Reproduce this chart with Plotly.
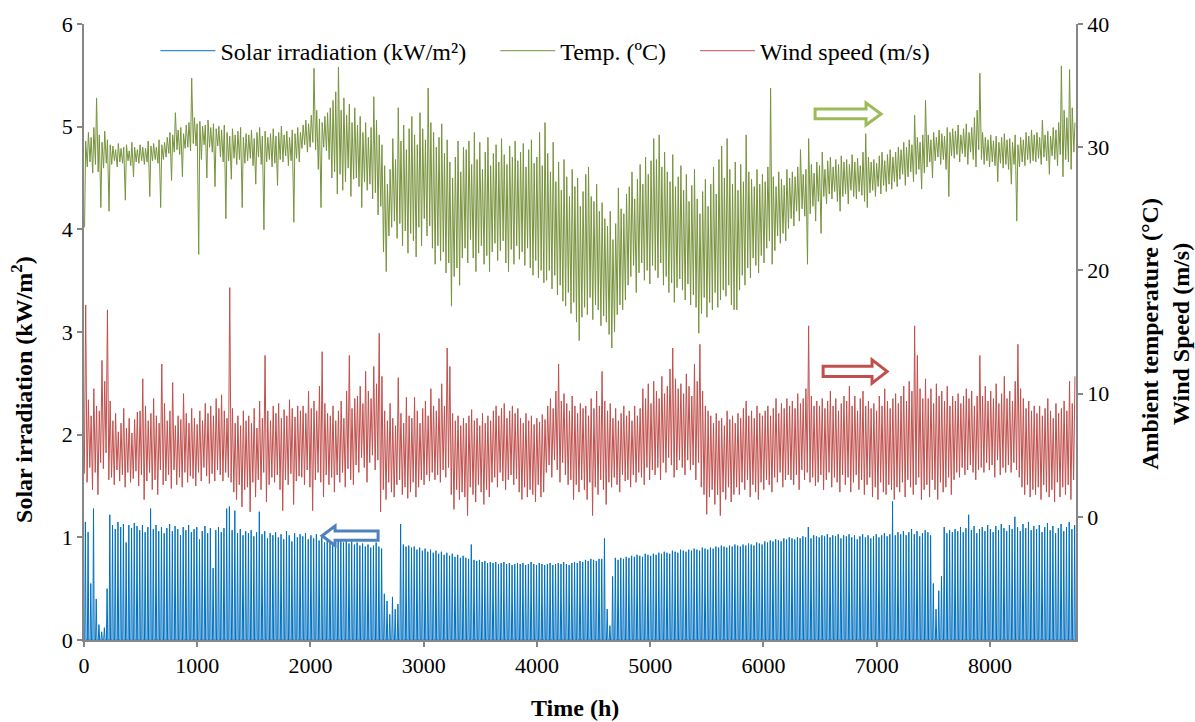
import numpy as np
import plotly.graph_objects as go

# ---------------- data (daily values) ----------------
# daily peak solar irradiation (kW/m2)
solar_peak = (
    [1.15, 1.05, 0.55, 1.28, 0.40, 0.15, 0.08, 0.12, 0.50, 1.22]
    + [1.12, 1.08, 1.15, 1.10, 1.13, 0.95, 1.12, 1.09, 1.14, 1.11]
    + [1.07, 1.12, 1.05, 1.10, 1.28, 1.08, 1.12, 1.06, 1.10, 1.04]
    + [1.09, 1.13, 1.06, 1.11, 1.08, 1.02, 1.10, 1.07, 1.12, 1.05]
    + [1.08, 1.10, 0.98, 1.06, 1.11, 1.04, 1.09, 0.70, 1.07, 1.10]
    + [1.05, 1.09, 1.28, 1.30, 1.07, 1.26, 1.04, 1.08, 1.02, 1.06]
    + [1.04, 1.07, 1.01, 1.05, 1.25, 1.03, 1.06, 0.99, 1.04, 1.02]
    + [1.05, 1.00, 1.03, 0.98, 1.06, 1.02, 0.96, 1.04, 1.00, 1.03]
    + [1.01, 1.04, 0.98, 1.02, 0.99, 1.03, 0.97, 1.00, 0.95, 0.99]
    + [0.98, 1.01, 0.96, 0.99, 0.97, 0.95, 0.98, 0.94, 0.96, 0.93]
    + [0.95, 0.92, 0.94, 0.91, 0.93, 0.90, 0.92, 0.95, 0.91, 0.89]
    + [0.45, 0.38, 0.25, 0.42, 0.30, 0.35, 1.13, 0.93, 0.91, 0.92]
    + [0.90, 0.91, 0.88, 0.90, 0.87, 0.89, 0.86, 0.88, 0.85, 0.87]
    + [0.84, 0.86, 0.83, 0.85, 0.82, 0.84, 0.81, 0.83, 0.80, 0.82]
    + [0.80, 0.79, 0.93, 0.78, 0.77, 0.78, 0.76, 0.77, 0.75, 0.76]
    + [0.75, 0.76, 0.74, 0.75, 0.76, 0.74, 0.75, 0.73, 0.74, 0.75]
    + [0.74, 0.75, 0.73, 0.74, 0.76, 0.74, 0.73, 0.75, 0.74, 0.73]
    + [0.74, 0.75, 0.73, 0.74, 0.75, 0.74, 0.76, 0.74, 0.73, 0.75]
    + [0.76, 0.75, 0.77, 0.76, 0.78, 0.77, 0.79, 0.78, 0.77, 0.79]
    + [0.79, 0.99, 0.30, 0.14, 0.62, 0.80, 0.78, 0.80, 0.79, 0.81]
    + [0.80, 0.82, 0.81, 0.83, 0.82, 0.81, 0.84, 0.83, 0.82, 0.84]
    + [0.83, 0.85, 0.84, 0.86, 0.85, 0.84, 0.87, 0.86, 0.85, 0.88]
    + [0.87, 0.86, 0.88, 0.87, 0.89, 0.88, 0.87, 0.90, 0.89, 0.88]
    + [0.90, 0.89, 0.91, 0.90, 0.92, 0.91, 0.90, 0.92, 0.91, 0.93]
    + [0.92, 0.91, 0.93, 0.92, 0.94, 0.93, 0.92, 0.95, 0.94, 0.93]
    + [0.96, 0.95, 0.97, 0.96, 0.98, 0.97, 0.96, 0.99, 0.98, 1.00]
    + [0.99, 0.98, 1.00, 0.99, 1.01, 1.00, 1.10, 0.99, 1.02, 1.01]
    + [1.00, 1.02, 1.01, 1.03, 1.00, 1.02, 1.01, 1.03, 0.99, 1.02]
    + [1.01, 1.03, 1.00, 1.02, 0.98, 1.01, 1.03, 1.00, 1.02, 0.99]
    + [1.01, 1.03, 1.00, 1.02, 1.04, 1.01, 1.03, 1.35, 1.02, 1.05]
    + [1.03, 1.06, 1.02, 1.05, 1.08, 1.03, 1.06, 1.01, 1.04, 1.07]
    + [1.05, 1.02, 0.55, 0.30, 0.48, 0.62, 1.10, 1.04, 1.07, 1.05]
    + [1.08, 1.06, 1.10, 1.05, 1.09, 1.22, 1.07, 1.11, 1.04, 1.08]
    + [1.10, 1.06, 1.12, 1.08, 1.05, 1.11, 1.07, 1.13, 1.09, 1.06]
    + [1.12, 1.08, 1.20, 1.10, 1.06, 1.13, 1.09, 1.15, 1.07, 1.11]
    + [1.08, 1.12, 1.05, 1.10, 1.14, 1.07, 1.11, 1.04, 1.09, 1.13]
    + [1.06, 1.10, 1.15, 1.08, 1.12]
)

# daily maximum / minimum ambient temperature (degC)
temp_max = (
    [30.5, 31.2, 30.8, 31.6, 34.0, 31.0, 30.4, 31.3, 30.6, 30.2]
    + [30.1, 29.8, 30.3, 29.9, 30.0, 30.2, 29.7, 30.4, 30.0, 29.8]
    + [30.2, 30.0, 29.9, 30.5, 30.1, 30.3, 30.0, 30.6, 30.2, 30.4]
    + [30.8, 31.2, 31.0, 32.8, 31.4, 31.6, 31.1, 31.8, 32.0, 35.6]
    + [32.4, 31.9, 32.1, 31.7, 31.8, 32.2, 31.6, 31.9, 31.5, 31.7]
    + [31.4, 31.8, 31.2, 30.9, 31.5, 31.0, 31.3, 31.6, 30.8, 31.1]
    + [31.0, 31.4, 30.7, 31.2, 31.6, 30.9, 31.3, 30.8, 31.1, 31.5]
    + [30.9, 31.2, 31.7, 31.0, 31.3, 30.8, 31.4, 31.1, 31.6, 31.2]
    + [31.8, 32.2, 31.9, 32.6, 36.4, 33.0, 32.3, 32.0, 32.5, 32.8]
    + [33.2, 33.8, 34.5, 36.5, 33.0, 34.0, 32.6, 33.5, 32.0, 33.2]
    + [31.8, 32.5, 31.2, 32.0, 30.8, 31.6, 34.1, 32.2, 31.0, 30.2]
    + [28.5, 27.0, 28.2, 30.7, 29.0, 33.2, 30.5, 31.8, 29.8, 31.5]
    + [32.5, 31.0, 30.2, 32.8, 31.5, 30.6, 34.8, 32.0, 31.2, 30.0]
    + [30.8, 31.9, 29.5, 30.6, 28.8, 27.5, 29.2, 30.5, 28.0, 30.0]
    + [29.8, 30.5, 28.6, 31.2, 29.0, 30.4, 28.2, 29.6, 30.8, 28.5]
    + [29.5, 30.2, 28.8, 30.7, 29.4, 28.6, 30.1, 29.2, 30.5, 28.9]
    + [29.6, 30.3, 28.4, 29.8, 30.6, 28.7, 29.2, 31.2, 28.5, 32.0]
    + [29.5, 28.0, 30.4, 27.2, 28.8, 26.5, 29.0, 27.6, 26.0, 28.2]
    + [26.8, 27.5, 25.2, 26.4, 27.8, 28.4, 26.0, 25.6, 27.0, 24.8]
    + [25.5, 24.2, 23.6, 24.8, 22.5, 23.8, 26.7, 25.0, 24.6, 26.2]
    + [26.8, 28.0, 25.8, 27.4, 28.6, 27.0, 29.2, 27.8, 28.9, 30.7]
    + [29.0, 31.0, 28.4, 29.6, 28.0, 27.2, 29.4, 26.8, 27.6, 28.5]
    + [26.5, 27.8, 25.6, 26.9, 28.2, 25.8, 24.6, 26.4, 27.4, 25.2]
    + [27.0, 28.4, 26.2, 29.0, 30.1, 27.5, 30.7, 28.2, 27.0, 28.8]
    + [26.5, 28.6, 27.2, 31.0, 28.0, 27.4, 26.8, 28.2, 27.0, 27.8]
    + [27.2, 28.4, 34.8, 27.6, 26.8, 28.0, 27.4, 26.9, 28.2, 27.5]
    + [28.0, 27.6, 28.4, 29.8, 27.8, 28.2, 30.7, 28.6, 27.9, 28.8]
    + [28.5, 29.6, 28.2, 28.9, 29.2, 28.4, 29.0, 28.6, 29.3, 28.8]
    + [29.0, 28.6, 29.4, 28.8, 29.1, 28.5, 29.6, 31.1, 29.2, 28.8]
    + [29.0, 28.7, 29.3, 29.6, 28.9, 29.4, 29.8, 29.2, 29.6, 30.0]
    + [29.8, 30.4, 30.0, 30.6, 30.2, 32.6, 30.8, 30.4, 31.0, 33.8]
    + [31.0, 30.6, 31.2, 30.8, 31.4, 31.1, 30.9, 31.6, 31.2, 31.5]
    + [31.3, 31.8, 31.0, 31.5, 31.9, 31.2, 31.6, 32.4, 33.0, 36.0]
    + [31.2, 30.8, 30.6, 31.0, 30.5, 30.9, 30.4, 30.8, 31.1, 30.6]
    + [30.7, 30.4, 31.0, 30.2, 30.8, 30.6, 31.2, 30.9, 31.4, 31.0]
    + [31.2, 30.8, 32.2, 31.0, 31.3, 30.9, 31.6, 31.4, 32.0, 36.6]
    + [33.0, 32.4, 36.3, 33.2, 32.0]
)
temp_min = (
    [23.5, 28.4, 28.8, 27.9, 28.6, 28.0, 25.1, 28.3, 28.7, 24.8]
    + [28.6, 28.9, 28.4, 28.8, 28.7, 25.7, 28.9, 28.5, 27.6, 28.8]
    + [28.7, 28.9, 28.6, 28.8, 26.0, 28.9, 29.0, 28.7, 25.1, 29.0]
    + [29.2, 29.5, 27.3, 29.6, 29.8, 29.4, 27.6, 29.9, 30.0, 29.7]
    + [30.3, 30.1, 21.3, 29.0, 30.2, 27.5, 30.0, 29.6, 26.8, 30.1]
    + [29.2, 28.8, 24.2, 28.9, 27.4, 29.1, 28.6, 29.0, 25.1, 28.7]
    + [28.9, 29.1, 28.5, 27.0, 29.2, 28.6, 23.3, 28.8, 29.0, 28.4]
    + [28.7, 26.9, 29.0, 28.8, 29.3, 28.5, 28.9, 23.9, 29.1, 28.8]
    + [29.9, 30.2, 29.6, 30.0, 30.4, 29.8, 28.2, 25.1, 30.0, 29.7]
    + [29.0, 27.5, 28.0, 26.2, 27.8, 26.5, 27.2, 28.3, 26.0, 27.4]
    + [27.5, 26.8, 25.1, 27.2, 26.5, 27.0, 25.8, 26.3, 24.5, 25.2]
    + [21.5, 19.9, 22.8, 23.5, 24.0, 22.6, 23.8, 22.0, 23.2, 21.4]
    + [23.0, 22.4, 21.1, 23.5, 22.0, 24.2, 22.8, 23.6, 21.8, 20.5]
    + [22.0, 20.8, 21.5, 19.8, 20.6, 17.1, 19.5, 20.2, 18.8, 21.0]
    + [21.8, 20.6, 22.5, 21.0, 19.9, 21.4, 22.0, 20.5, 21.2, 19.9]
    + [21.5, 22.2, 20.8, 21.6, 22.4, 20.6, 19.9, 21.7, 20.5, 22.0]
    + [20.9, 21.5, 20.4, 21.8, 20.2, 19.6, 20.8, 19.4, 20.0, 19.0]
    + [19.2, 20.0, 18.5, 19.6, 18.0, 18.8, 17.5, 17.1, 18.2, 16.5]
    + [17.4, 15.8, 14.3, 16.2, 17.0, 16.4, 17.8, 16.0, 17.2, 16.8]
    + [15.5, 16.3, 15.8, 14.8, 13.7, 15.0, 16.4, 17.2, 16.8, 17.6]
    + [18.8, 19.5, 20.4, 18.2, 19.8, 20.6, 19.2, 20.0, 18.9, 20.4]
    + [20.0, 19.4, 20.6, 18.8, 19.5, 18.2, 19.0, 17.4, 18.6, 19.3]
    + [18.4, 17.6, 18.9, 17.2, 18.0, 17.0, 14.9, 16.5, 17.8, 16.2]
    + [17.4, 16.8, 18.2, 17.0, 17.6, 18.4, 17.9, 18.8, 17.2, 16.8]
    + [16.8, 18.4, 19.6, 18.8, 20.2, 19.4, 21.0, 20.4, 19.8, 21.2]
    + [20.6, 21.8, 22.4, 20.5, 21.6, 22.8, 22.2, 23.0, 22.4, 23.4]
    + [24.2, 23.6, 24.8, 24.0, 25.0, 24.4, 20.5, 24.6, 25.2, 24.0]
    + [25.6, 23.0, 26.0, 25.4, 26.2, 25.8, 26.4, 25.6, 24.8, 26.0]
    + [26.2, 25.4, 26.5, 26.0, 25.8, 26.4, 26.1, 25.6, 25.1, 26.3]
    + [26.5, 26.0, 26.8, 26.2, 26.9, 26.4, 27.0, 26.6, 27.2, 26.8]
    + [27.4, 27.8, 26.9, 27.6, 28.0, 27.2, 27.8, 28.2, 26.6, 27.9]
    + [28.4, 28.8, 27.5, 28.9, 29.2, 28.6, 29.0, 28.2, 26.0, 29.3]
    + [29.1, 29.4, 28.8, 29.5, 29.2, 28.6, 29.6, 29.0, 28.4, 29.8]
    + [29.0, 28.6, 28.9, 28.4, 28.8, 28.5, 27.2, 28.7, 28.3, 28.6]
    + [28.2, 27.0, 28.6, 24.0, 28.4, 28.8, 28.5, 29.0, 28.7, 28.9]
    + [28.8, 29.1, 28.6, 29.2, 28.9, 27.8, 29.3, 29.0, 28.5, 29.4]
    + [27.6, 29.0, 28.8, 28.2, 29.6]
)

# daily maximum / minimum wind speed (m/s)
wind_max = (
    [17.2, 9.5, 8.2, 10.4, 9.0, 8.6, 12.7, 11.0, 16.8, 9.4]
    + [7.8, 8.4, 6.9, 7.6, 8.8, 7.2, 8.0, 6.8, 7.9, 8.5]
    + [8.6, 11.2, 9.0, 7.8, 8.4, 9.6, 8.2, 7.6, 12.4, 9.2]
    + [7.8, 8.6, 10.9, 7.4, 8.2, 7.9, 10.0, 8.4, 7.6, 8.8]
    + [8.0, 7.5, 8.6, 7.8, 9.2, 8.4, 9.0, 8.2, 9.6, 8.8]
    + [9.9, 8.6, 8.0, 18.6, 8.8, 7.6, 8.2, 7.4, 8.6, 7.8]
    + [8.2, 7.6, 8.8, 7.2, 9.4, 8.0, 13.1, 8.6, 7.8, 9.0]
    + [8.4, 9.2, 8.0, 8.7, 8.2, 9.5, 8.8, 8.1, 9.0, 8.6]
    + [9.0, 8.4, 10.2, 8.8, 9.4, 8.6, 10.6, 13.4, 9.2, 8.4]
    + [8.2, 9.0, 7.8, 8.6, 9.4, 8.0, 10.2, 13.1, 8.8, 9.6]
    + [9.8, 10.6, 9.2, 11.8, 10.2, 9.6, 12.2, 10.8, 14.9, 11.4]
    + [8.6, 7.8, 9.2, 8.0, 7.4, 11.3, 8.4, 7.6, 9.7, 8.2]
    + [8.0, 9.7, 8.6, 7.6, 8.8, 9.4, 8.2, 10.4, 9.0, 8.6]
    + [9.6, 10.8, 9.0, 13.7, 12.2, 8.4, 7.8, 8.2, 7.4, 8.0]
    + [7.6, 8.2, 8.7, 7.8, 8.0, 7.4, 8.4, 7.6, 8.2, 7.8]
    + [8.6, 9.0, 8.2, 8.8, 9.2, 8.0, 8.6, 9.0, 8.4, 8.8]
    + [8.0, 7.6, 8.4, 7.8, 8.2, 7.5, 8.0, 7.7, 8.3, 7.9]
    + [9.0, 9.6, 8.8, 10.2, 12.4, 9.4, 10.0, 9.2, 8.6, 9.8]
    + [9.0, 8.4, 9.2, 8.8, 9.0, 8.2, 9.6, 8.8, 10.2, 9.0]
    + [11.8, 9.4, 8.6, 9.2, 8.0, 8.8, 7.8, 8.4, 9.0, 8.2]
    + [8.6, 7.8, 9.0, 8.2, 8.8, 10.4, 9.6, 10.8, 9.2, 11.0]
    + [10.2, 9.6, 11.4, 10.0, 10.6, 12.0, 13.7, 11.2, 10.4, 10.8]
    + [10.0, 11.6, 10.6, 9.8, 12.4, 11.0, 14.0, 10.2, 9.0, 8.6]
    + [8.2, 7.6, 8.4, 7.8, 8.0, 7.4, 8.6, 7.9, 8.2, 7.6]
    + [8.4, 8.0, 8.8, 9.4, 8.2, 8.6, 8.0, 9.0, 8.4, 8.2]
    + [8.6, 9.0, 8.2, 8.8, 9.6, 8.4, 9.2, 8.8, 9.6, 9.0]
    + [9.4, 8.8, 10.0, 9.2, 9.6, 10.4, 15.5, 9.8, 9.0, 9.4]
    + [9.0, 9.6, 8.8, 9.4, 10.2, 9.0, 9.6, 8.6, 9.2, 9.8]
    + [9.4, 10.6, 9.0, 9.8, 8.6, 9.6, 10.2, 9.0, 9.4, 8.8]
    + [9.2, 8.6, 9.8, 9.0, 10.4, 9.4, 8.8, 9.6, 10.0, 9.2]
    + [9.8, 10.6, 9.4, 11.0, 10.2, 15.5, 13.1, 10.4, 9.6, 11.2]
    + [9.6, 10.4, 9.2, 10.8, 9.8, 10.2, 9.4, 10.6, 9.0, 9.8]
    + [9.4, 10.0, 9.2, 9.8, 10.4, 9.6, 10.2, 9.0, 9.8, 13.1]
    + [9.8, 10.6, 9.4, 10.2, 9.6, 10.8, 9.2, 10.0, 11.4, 9.6]
    + [10.2, 9.4, 11.0, 14.0, 10.4, 9.6, 8.8, 9.4, 8.6, 9.0]
    + [8.4, 9.0, 8.2, 8.8, 9.6, 8.6, 8.0, 9.2, 8.4, 8.8]
    + [9.4, 8.6, 11.0, 9.2, 11.4]
)
wind_min = (
    [3.5, 2.8, 4.0, 2.2, 3.6, 1.8, 4.4, 3.9, 5.2, 3.0]
    + [3.2, 2.6, 3.8, 2.9, 3.4, 2.4, 3.6, 2.8, 3.1, 3.7]
    + [2.5, 3.4, 1.4, 2.9, 3.6, 2.2, 3.0, 1.8, 3.8, 2.6]
    + [2.9, 3.4, 2.3, 3.8, 2.6, 3.2, 2.4, 3.6, 2.8, 3.3]
    + [3.1, 2.5, 3.6, 2.9, 4.0, 3.3, 2.7, 3.5, 2.9, 3.8]
    + [3.4, 2.9, 3.6, 3.2, 2.8, 2.0, 1.4, 2.6, 0.8, 2.2]
    + [2.4, 0.4, 2.8, 1.6, 3.0, 2.2, 3.6, 1.2, 2.6, 3.2]
    + [2.8, 3.4, 2.2, 0.5, 3.0, 2.6, 3.5, 1.0, 2.9, 3.3]
    + [3.2, 2.6, 3.8, 2.4, 0.5, 3.0, 3.6, 2.8, 1.6, 3.4]
    + [2.6, 3.2, 2.0, 3.4, 2.8, 3.6, 2.4, 3.9, 3.0, 2.6]
    + [4.2, 3.6, 4.8, 4.0, 2.8, 4.4, 5.0, 3.8, 4.6, 0.4]
    + [2.2, 1.4, 2.8, 2.0, 1.6, 2.6, 3.0, 1.8, 2.4, 1.5]
    + [2.0, 2.8, 1.6, 2.4, 3.0, 2.6, 3.4, 2.9, 3.6, 3.0]
    + [3.4, 2.8, 3.8, 3.2, 4.0, 1.8, 0.6, 2.2, 1.4, 2.0]
    + [1.6, 0.1, 2.4, 1.8, 1.2, 2.6, 2.0, 1.0, 2.2, 1.6]
    + [2.8, 3.2, 2.4, 3.6, 2.9, 2.2, 3.0, 3.4, 2.6, 3.1]
    + [2.0, 1.4, 2.4, 1.6, 2.2, 1.8, 1.2, 2.6, 1.6, 2.0]
    + [3.6, 4.2, 3.2, 4.6, 3.8, 2.8, 4.4, 3.4, 2.6, 3.0]
    + [1.4, 2.6, 2.0, 3.0, 2.2, 1.4, 2.8, 0.1, 2.4, 1.8]
    + [3.0, 2.2, 1.0, 2.8, 2.4, 3.2, 2.6, 2.0, 3.4, 2.9]
    + [3.0, 2.4, 3.4, 2.8, 3.6, 3.2, 2.6, 4.0, 3.0, 3.8]
    + [3.4, 4.0, 3.0, 4.4, 3.6, 4.8, 4.2, 3.2, 3.8, 4.6]
    + [4.0, 3.4, 4.6, 3.8, 4.2, 3.0, 4.4, 2.4, 1.8, 0.2]
    + [1.6, 2.2, 1.0, 1.8, 0.1, 2.0, 1.4, 2.4, 1.2, 1.8]
    + [2.4, 1.8, 2.8, 2.2, 3.0, 1.6, 2.6, 2.0, 1.4, 2.8]
    + [2.2, 3.0, 2.6, 2.0, 3.2, 2.8, 3.6, 2.4, 3.0, 3.4]
    + [3.0, 2.6, 3.4, 2.2, 3.8, 3.0, 3.6, 2.8, 3.2, 2.5]
    + [2.8, 3.4, 2.2, 3.0, 3.6, 2.4, 3.2, 2.8, 2.0, 3.4]
    + [2.6, 3.2, 2.0, 2.8, 3.4, 2.2, 3.0, 1.8, 2.6, 3.2]
    + [1.6, 2.4, 1.4, 2.8, 2.0, 1.8, 2.6, 2.2, 1.4, 2.4]
    + [2.0, 2.8, 1.6, 3.0, 2.4, 1.8, 2.6, 3.2, 1.4, 2.2]
    + [2.6, 1.6, 3.0, 2.2, 1.4, 2.8, 2.0, 2.4, 3.2, 1.8]
    + [3.0, 3.6, 3.2, 4.0, 3.4, 3.8, 4.2, 3.6, 3.0, 3.8]
    + [4.0, 3.6, 4.4, 3.8, 4.2, 3.2, 4.6, 3.4, 4.0, 3.6]
    + [4.2, 3.6, 4.4, 3.8, 3.2, 2.4, 1.8, 2.6, 1.6, 2.2]
    + [1.8, 2.4, 1.4, 2.6, 2.0, 1.6, 2.2, 1.2, 2.8, 1.6]
    + [2.4, 1.8, 2.6, 1.4, 3.0]
)

for arr in (solar_peak, temp_max, temp_min, wind_max, wind_min):
    assert len(arr) == 365, len(arr)

x_ticks = [0, 1000, 2000, 3000, 4000, 5000, 6000, 7000, 8000]
y_ticks = [0, 1, 2, 3, 4, 5, 6]
y2_ticks = [0, 10, 20, 30, 40]
series_names = ["Solar irradiation (kW/m²)", "Temp. (ºC)", "Wind speed (m/s)"]

# ---------------- hourly time base built from day index ----------------
days = np.arange(365)
# solar: dawn 0, noon peak, dusk 0 for each day
sx = np.column_stack([24 * days + 6, 24 * days + 12, 24 * days + 18]).ravel()
sy = np.column_stack([np.zeros(365), solar_peak, np.zeros(365)]).ravel()
# temperature: morning minimum, afternoon maximum
tx = np.column_stack([24 * days + 5, 24 * days + 15]).ravel()
ty = np.column_stack([temp_min, temp_max]).ravel()
# wind: minimum / maximum each day
wx = np.column_stack([24 * days + 3, 24 * days + 15]).ravel()
wy = np.column_stack([wind_min, wind_max]).ravel()

FONT = "Liberation Serif"
BLUE = "#0070C0"
GREEN = "#77933C"
RED = "#C0504D"
AXIS = "#868686"
PAD = "\u00a0" * 4  # spacing between legend entries

fig = go.Figure()
fig.add_trace(go.Scatter(x=sx, y=sy, mode="lines", name=series_names[0] + PAD,
                         line=dict(color=BLUE, width=1), yaxis="y"))
fig.add_trace(go.Scatter(x=tx, y=ty, mode="lines", name=series_names[1] + PAD,
                         line=dict(color=GREEN, width=1), yaxis="y2"))
fig.add_trace(go.Scatter(x=wx, y=wy, mode="lines", name=series_names[2],
                         line=dict(color=RED, width=1), yaxis="y2"))


def block_arrow(x_tail, x_neck, x_tip, yc, hs, hh):
    return (f"M {x_tail},{yc - hs} L {x_neck},{yc - hs} L {x_neck},{yc - hh} "
            f"L {x_tip},{yc} L {x_neck},{yc + hh} L {x_neck},{yc + hs} "
            f"L {x_tail},{yc + hs} Z")


shapes = [
    dict(type="path", xref="x", yref="y2", layer="above",
         path=block_arrow(6456, 6906, 7039, 32.7, 0.4, 0.9),
         line=dict(color="#9BBB59", width=3), fillcolor="white"),
    dict(type="path", xref="x", yref="y2", layer="above",
         path=block_arrow(6527, 6959, 7092, 11.8, 0.42, 0.95),
         line=dict(color=RED, width=3), fillcolor="white"),
    dict(type="path", xref="x", yref="y", layer="above",
         path=block_arrow(2597, 2217, 2102, 1.016, 0.045, 0.095),
         line=dict(color="#4F81BD", width=3), fillcolor="white"),
]

axis_common = dict(showline=True, linecolor=AXIS, linewidth=1.5, ticks="outside",
                   ticklen=5, tickcolor=AXIS, tickwidth=1.5, showgrid=False, zeroline=False,
                   tickfont=dict(family=FONT, size=22, color="black"))

fig.update_layout(
    width=1195, height=722,
    margin=dict(l=84, r=119, t=20, b=82),
    paper_bgcolor="white", plot_bgcolor="white",
    font=dict(family=FONT, size=22, color="black"),
    xaxis=dict(range=[0, 8760], tickvals=x_ticks, **axis_common),
    yaxis=dict(range=[0, 6], tickvals=y_ticks, **axis_common),
    yaxis2=dict(range=[-10, 40], tickvals=y2_ticks, overlaying="y", side="right",
                **axis_common),
    legend=dict(orientation="h", x=0.072, y=0.956, xanchor="left", yanchor="middle",
                itemwidth=55,
                font=dict(family=FONT, size=24, color="black"), bgcolor="rgba(0,0,0,0)"),
    showlegend=True,
    shapes=shapes,
    annotations=[
        dict(text="<b>Time (h)</b>", xref="paper", yref="paper", x=0.495, y=-0.11,
             xanchor="center", yanchor="middle", showarrow=False,
             font=dict(family=FONT, size=24, color="black")),
        dict(text="<b>Solar irradiation (kW/m<sup>2</sup>)</b>", xref="paper", yref="paper",
             x=-0.0625, y=0.406, xanchor="center", yanchor="middle", textangle=-90,
             showarrow=False, font=dict(family=FONT, size=24, color="black")),
        dict(text="<b>Ambient temperature (°C)<br>Wind Speed (m/s)</b>", xref="paper",
             yref="paper", x=1.0907, y=0.497, xanchor="center", yanchor="middle",
             textangle=-90, showarrow=False,
             font=dict(family=FONT, size=24, color="black")),
    ],
)

fig.write_html("out.html")
